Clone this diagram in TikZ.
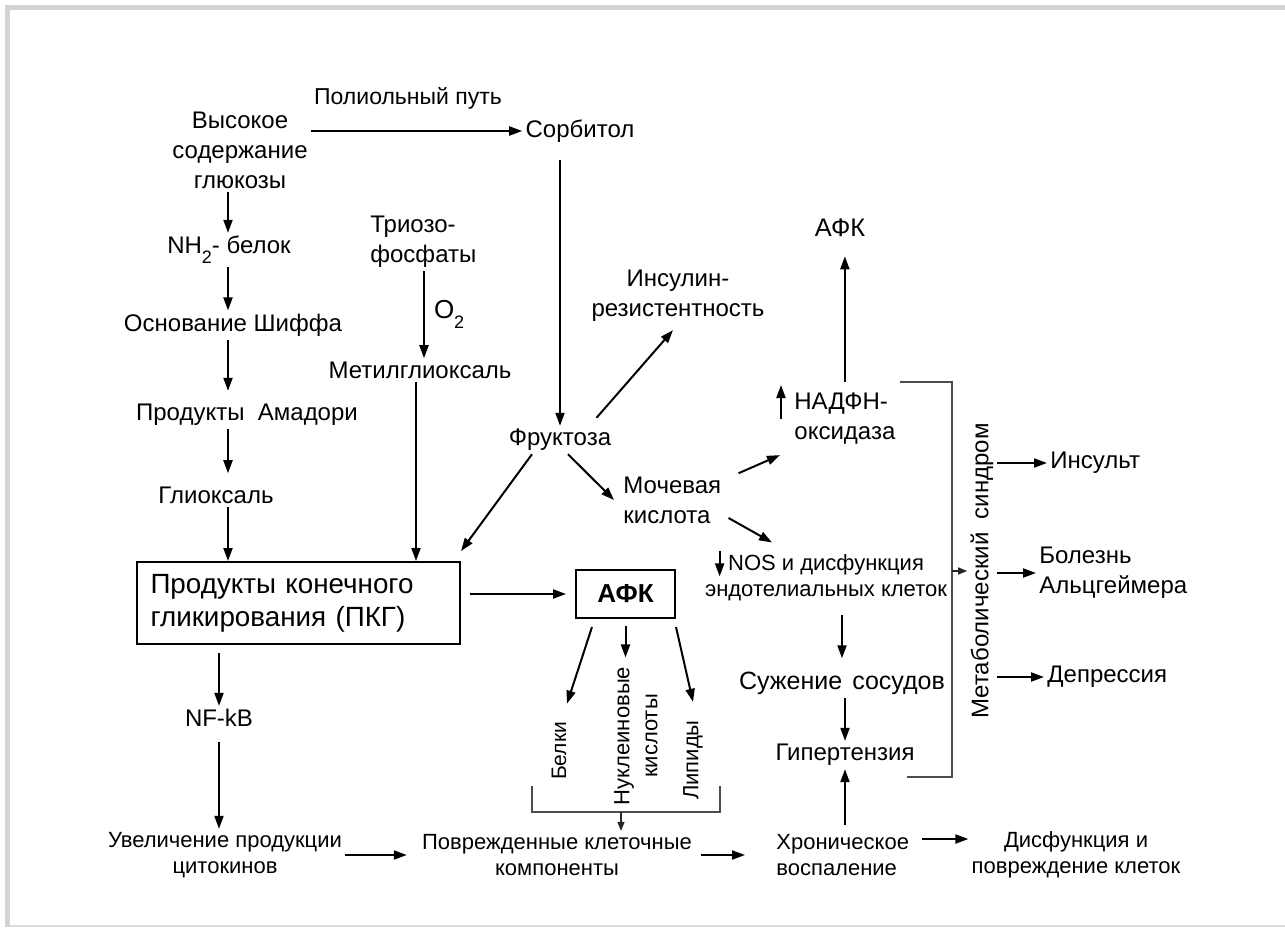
\documentclass[tikz,border=0pt]{standalone}
\usepackage{fontspec}
\setmainfont{Liberation Sans}
\usepackage{tikz}
\usetikzlibrary{arrows.meta}
\usetikzlibrary{positioning}
\usetikzlibrary{calc}
\definecolor{framegray}{RGB}{211,211,211}
\tikzstyle{term}=[inner sep=1.5pt, align=center, font=\fontsize{12}{15}\selectfont]
\tikzstyle{smallterm}=[term, font=\fontsize{11}{13}\selectfont]
\tikzstyle{leftterm}=[term, anchor=west, align=left]
\tikzstyle{upterm}=[term, rotate=90, font=\fontsize{11}{14}\selectfont]
\tikzstyle{agebox}=[draw, line width=1pt, minimum width=161.5pt, minimum height=41pt, text width=148pt, inner xsep=6.5pt, align=left, font=\fontsize{13.9}{16.5}\selectfont]
\tikzstyle{afkbox}=[draw, line width=1pt, minimum width=49.5pt, minimum height=24pt, inner sep=0pt, font=\bfseries\fontsize{13}{15}\selectfont]
\tikzstyle{edge}=[draw, line width=1pt, -{Triangle[length=6.5pt,width=4.5pt]}]
\tikzstyle{smalledge}=[draw, line width=0.7pt, black!85, -{Triangle[length=4.5pt,width=3.5pt]}]
\tikzstyle{bracket}=[draw, line width=0.7pt, black!70]

\begin{document}
\begin{tikzpicture}[x=0.5pt, y=-0.5pt]
\useasboundingbox (0,0) rectangle (1285,927);
\fill[framegray] (5,5) rectangle (10,927);
\fill[framegray] (5,5) rectangle (1285,10);
\fill[framegray!80] (10,925) rectangle (1285,927);

% glycation column
\coordinate (lcol) at (228,0);
\node[term] (gluc) at (240,150) {Высокое\\содержание\\глюкозы};
\node[term] (nh2) at (229,250) {NH\raisebox{-5pt}{\fontsize{9}{9}\selectfont 2}- белок};
\node[term] (shiff) at (233,325) {Основание Шиффа};
\node[term] (amad) at (247,415) {Продукты\ \ Амадори};
\node[term] (glio) at (216,495) {Глиоксаль};
\node[agebox] (age) at (298.5,603) {Продукты конечного\\гликирования (ПКГ)};

\foreach \s/\d/\g in {gluc/nh2/0pt, nh2/shiff/0pt, shiff/amad/5pt, amad/glio/5pt, glio/age/0pt}
    \path[edge, shorten >=\g] (\s.south -| lcol) -- (\d.north -| lcol);

% polyol pathway
\node[term, font=\fontsize{11.5}{14}\selectfont] (polyol) at (408,98) {Полиольный путь};
\node[term] (sorb) at (580,131) {Сорбитол};
\node[term] (fruc) at (560,440) {Фруктоза};
\node[term] (insul) at (678,296) {Инсулин-\\резистентность};
\path[edge] (gluc.east |- sorb) -- (sorb.west);
\path[edge, shorten <=7pt] (sorb.south -| fruc) -- (fruc.north);
\path[edge] ([xshift=-9pt,yshift=4pt]fruc.north east) -- ([xshift=-2.5pt,yshift=-2.5pt]insul.south);

% triose phosphates
\coordinate (tcol) at (424,0);
\coordinate (mcol) at (416,0);
\node[leftterm] (triose) at (367,242) {Триозо-\\фосфаты};
\node[term] (metg) at (420,370) {Метилглиоксаль};
\path[edge] (triose.south -| tcol) -- node[term, right=3pt, font=\fontsize{13}{15}\selectfont] (otwo) {O\raisebox{-5pt}{\fontsize{9}{9}\selectfont 2}} (metg.north -| tcol);
\path[edge] (metg.south -| mcol) -- (age.north -| mcol);
\path[edge] ([xshift=-14pt]fruc.south) -- ([yshift=5pt]age.north east);

% uric acid branch
\node[leftterm] (uric) at (620,500) {Мочевая\\кислота};
\node[leftterm] (nadph) at (791,419) {НАДФН-\\оксидаза};
\node[term, font=\fontsize{12.7}{15}\selectfont] (afktop) at (840,228) {АФК};
\node[smallterm] (nos) at (826,578) {NOS и дисфункция\\эндотелиальных клеток};
\node[term, font=\fontsize{12.5}{15}\selectfont] (suz) at (842,683) {Сужение\hspace{5pt}сосудов};
\node[term] (hyp) at (845,755) {Гипертензия};
\path[edge] ([xshift=4pt]fruc.south) -- ([xshift=-3pt]uric.west);
\path[edge] ([xshift=7pt]uric.north east) -- ([xshift=-5.5pt,yshift=-3.5pt]nadph.south west);
\path[edge] ([xshift=2pt,yshift=-9pt]uric.east) -- ([xshift=-27pt,yshift=4.5pt]nos.north);
\path[edge] ([xshift=-5pt]nadph.west) -- ([xshift=-5pt,yshift=17pt]nadph.west);
\path[edge] ([xshift=9pt]nos.north west) -- ([xshift=9pt,yshift=-12.5pt]nos.north west);
\path[edge, shorten >=8pt] ([yshift=4pt]nadph.north) -- (nadph.north |- afktop.south);
\path[edge, shorten <=5pt, shorten >=5pt] (nos.south -| suz) -- (suz.north);
\path[edge] (suz.south -| hyp) -- (hyp.north);

% metabolic syndrome
\coordinate (msa) at (952,382);
\coordinate (msb) at (952,777);
\coordinate (msm) at (952,571);
\draw[bracket] (900,382) -- (msa) -- (msb) -- (907,777);
\node[upterm, font=\fontsize{12}{15}\selectfont] (metab) at (982,571) {Метаболический\ \ синдром};
\node[leftterm] (stroke) at (1047,463) {Инсульт};
\node[leftterm] (alz) at (1036,573) {Болезнь\\Альцгеймера};
\node[leftterm] (depr) at (1044,677) {Депрессия};
\path[smalledge] (msm) -- (metab.north);
\foreach \d in {stroke, alz, depr}
    \path[edge] (metab.south |- \d.west) -- (\d.west);

% reactive oxygen species
\node[afkbox] (afkbox) at (625.5,594) {АФК};
\node[upterm, font=\fontsize{10.5}{12.5}\selectfont] (belki) at (559,751) {Белки};
\node[upterm] (nucl) at (636,736) {Нуклеиновые\\кислоты};
\node[upterm] (lipid) at (693,760) {Липиды};
\path[edge, shorten <=4.5pt, shorten >=4.5pt] (age.east |- afkbox) -- (afkbox.west);
\path[edge] ([xshift=8.5pt,yshift=-4pt]afkbox.south west) -- ([xshift=4pt,yshift=7.5pt]belki.east);
\path[edge, shorten >=3pt] ([yshift=-3.5pt]afkbox.south) -- (afkbox.south |- nucl.east);
\path[edge] ([yshift=-4pt]afkbox.south east) -- ([yshift=7.5pt]lipid.east);
\coordinate (bbm) at (621,812);
\draw[bracket] (532,786) -- (532,812) -- (720,812) -- (720,786);

% bottom row
\node[term] (nfkb) at (219,718) {NF-kB};
\node[smallterm] (cyto) at (225,855) {Увеличение продукции\\цитокинов};
\node[smallterm] (damag) at (557,855) {Поврежденные клеточные\\компоненты};
\node[smallterm, anchor=west, align=left] (chron) at (773,855) {Хроническое\\воспаление};
\node[smallterm] (dysf) at (1076,855) {Дисфункция и\\повреждение клеток};
\path[edge, shorten <=4pt] (age.south -| nfkb) -- (nfkb.north);
\path[edge, shorten <=6pt] (nfkb.south) -- (nfkb.south |- cyto.north);
\path[smalledge] (bbm) -- (damag.north -| bbm);
\path[edge, shorten >=6pt] (cyto.east) -- (damag.west);
\path[edge, shorten <=3pt, shorten >=14pt] (damag.east) -- (chron.west);
\path[edge] ([xshift=5pt,yshift=8pt]chron.east) -- ([yshift=8pt]dysf.west);
\path[edge, shorten <=3pt] (chron.north -| hyp) -- (hyp.south);
\end{tikzpicture}
\end{document}
